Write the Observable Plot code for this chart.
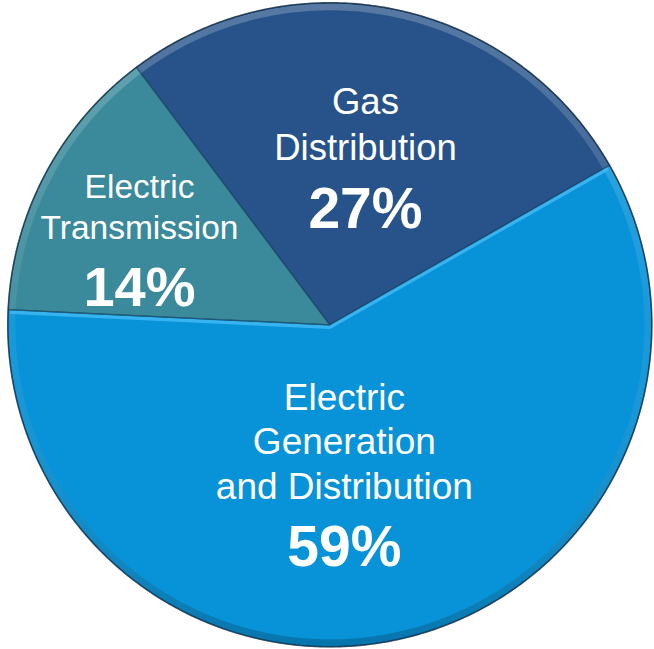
<!DOCTYPE html>
<html><head><meta charset="utf-8">
<script src="https://cdn.jsdelivr.net/npm/d3@7"></script>
<script src="https://cdn.jsdelivr.net/npm/@observablehq/plot@0.6"></script>
<style>html,body{margin:0;padding:0;background:#fff;} #chart svg{display:block}</style>
</head><body><div id="chart"></div>
<script>
// ---- data ----
const categories = ["Electric Transmission", "Gas Distribution", "Electric Generation and Distribution"];
const shares = [14, 27, 59];
const labelLines = [["Electric", "Transmission"], ["Gas", "Distribution"], ["Electric", "Generation", "and Distribution"]];
const percentLabels = ["14%", "27%", "59%"];
const colors = ["#3a8a9b", "#27538a", "#0893d8"];

// ---- layout ----
const W = 654, H = 649;
const CX = 329.3, CY = 324.3, R = 322;
const startDeg = -87.3;
const labelLayout = [
  {dx: -48, lines: [-51.9, -10.9], pct: 56.1, size: 33.5, pctSize: 56},
  {dx: 3, lines: [-53.6, -7.6], pct: 60.4, size: 36.5, pctSize: 57},
  {dx: -23, lines: [-71.8, -27.8, 17.2], pct: 84.2, size: 37, pctSize: 57}
];

const a0 = startDeg * Math.PI / 180;
const arcs = d3.pie().sort(null).value(d => d).startAngle(a0).endAngle(a0 + 2 * Math.PI)(shares);

const slicePts = [];
arcs.forEach((a, i) => {
  const n = Math.max(2, Math.ceil((a.endAngle - a.startAngle) / 0.005));
  slicePts.push({cat: categories[i], x: 0, y: 0});
  for (let k = 0; k <= n; k++) {
    const t = a.startAngle + (a.endAngle - a.startAngle) * k / n;
    slicePts.push({cat: categories[i], x: Math.sin(t), y: Math.cos(t)});
  }
  slicePts.push({cat: categories[i], x: 0, y: 0});
});

// radial edge of the largest slice (highlight)
const big = arcs[2];
const edgePts = [
  {x: Math.sin(big.startAngle) * 0.99, y: Math.cos(big.startAngle) * 0.99},
  {x: 0, y: 0},
  {x: Math.sin(big.endAngle) * 0.99, y: Math.cos(big.endAngle) * 0.99}
];

const rimPts = [];
{
  const n = 720;
  for (let k = 0; k <= n; k++) {
    const t = a0 + 2 * Math.PI * k / n;
    rimPts.push({x: Math.sin(t), y: Math.cos(t)});
  }
}

const labelRows = [], pctRows = [];
arcs.forEach((a, i) => {
  const m = (a.startAngle + a.endAngle) / 2;
  const ax = 0.5 * Math.sin(m), ay = 0.5 * Math.cos(m);
  const L = labelLayout[i];
  labelLines[i].forEach((t, j) => {
    labelRows.push({text: t, x: ax + L.dx / R, y: ay - L.lines[j] / R, size: L.size});
  });
  pctRows.push({text: percentLabels[i], x: ax + L.dx / R, y: ay - L.pct / R, size: L.pctSize});
});

const defs = () => {
  const d = d3.create("svg:defs");
  const g = d.append("linearGradient").attr("id", "rimgrad").attr("x1", 0).attr("y1", 0).attr("x2", 0).attr("y2", 1);
  g.append("stop").attr("offset", "0%").attr("stop-color", "#ffffff").attr("stop-opacity", 0.22);
  g.append("stop").attr("offset", "50%").attr("stop-color", "#ffffff").attr("stop-opacity", 0.06);
  g.append("stop").attr("offset", "100%").attr("stop-color", "#000000").attr("stop-opacity", 0.2);
  return d.node();
};

const chart = Plot.plot({
  width: W, height: H,
  margin: 0,
  x: {domain: [-1, 1], range: [CX - R, CX + R], axis: null},
  y: {domain: [-1, 1], range: [CY + R, CY - R], axis: null},
  color: {domain: categories, range: colors},
  style: {background: "#fff"},
  marks: [
    defs,
    Plot.line(slicePts, {x: "x", y: "y", z: "cat", fill: "cat", stroke: "none", curve: "linear"}),
    Plot.line(rimPts.map(p => ({x: p.x * (1 - 4 / R), y: p.y * (1 - 4 / R)})), {x: "x", y: "y", stroke: "url(#rimgrad)", strokeWidth: 7, fill: "none"}),
    Plot.line(edgePts, {x: "x", y: "y", dy: 2.5, stroke: "#3fb8f4", strokeOpacity: 0.85, strokeWidth: 3.5, fill: "none"}),
    Plot.line(slicePts, {x: "x", y: "y", z: "cat", stroke: "#0b2740", strokeOpacity: 0.4, strokeWidth: 1.2, fill: "none"}),
    Plot.line(rimPts, {x: "x", y: "y", stroke: "#0d2a45", strokeOpacity: 0.7, strokeWidth: 1.6, fill: "none"}),
    Plot.text(labelRows, {x: "x", y: "y", text: "text", fontSize: "size", fill: "white", textAnchor: "middle", lineAnchor: "bottom", fontFamily: "Liberation Sans, Arial, sans-serif", fontWeight: "normal"}),
    Plot.text(pctRows, {x: "x", y: "y", text: "text", fontSize: "size", fill: "white", textAnchor: "middle", lineAnchor: "bottom", fontFamily: "Liberation Sans, Arial, sans-serif", fontWeight: "bold"})
  ]
});
document.getElementById("chart").append(chart);
</script>
</body></html>
